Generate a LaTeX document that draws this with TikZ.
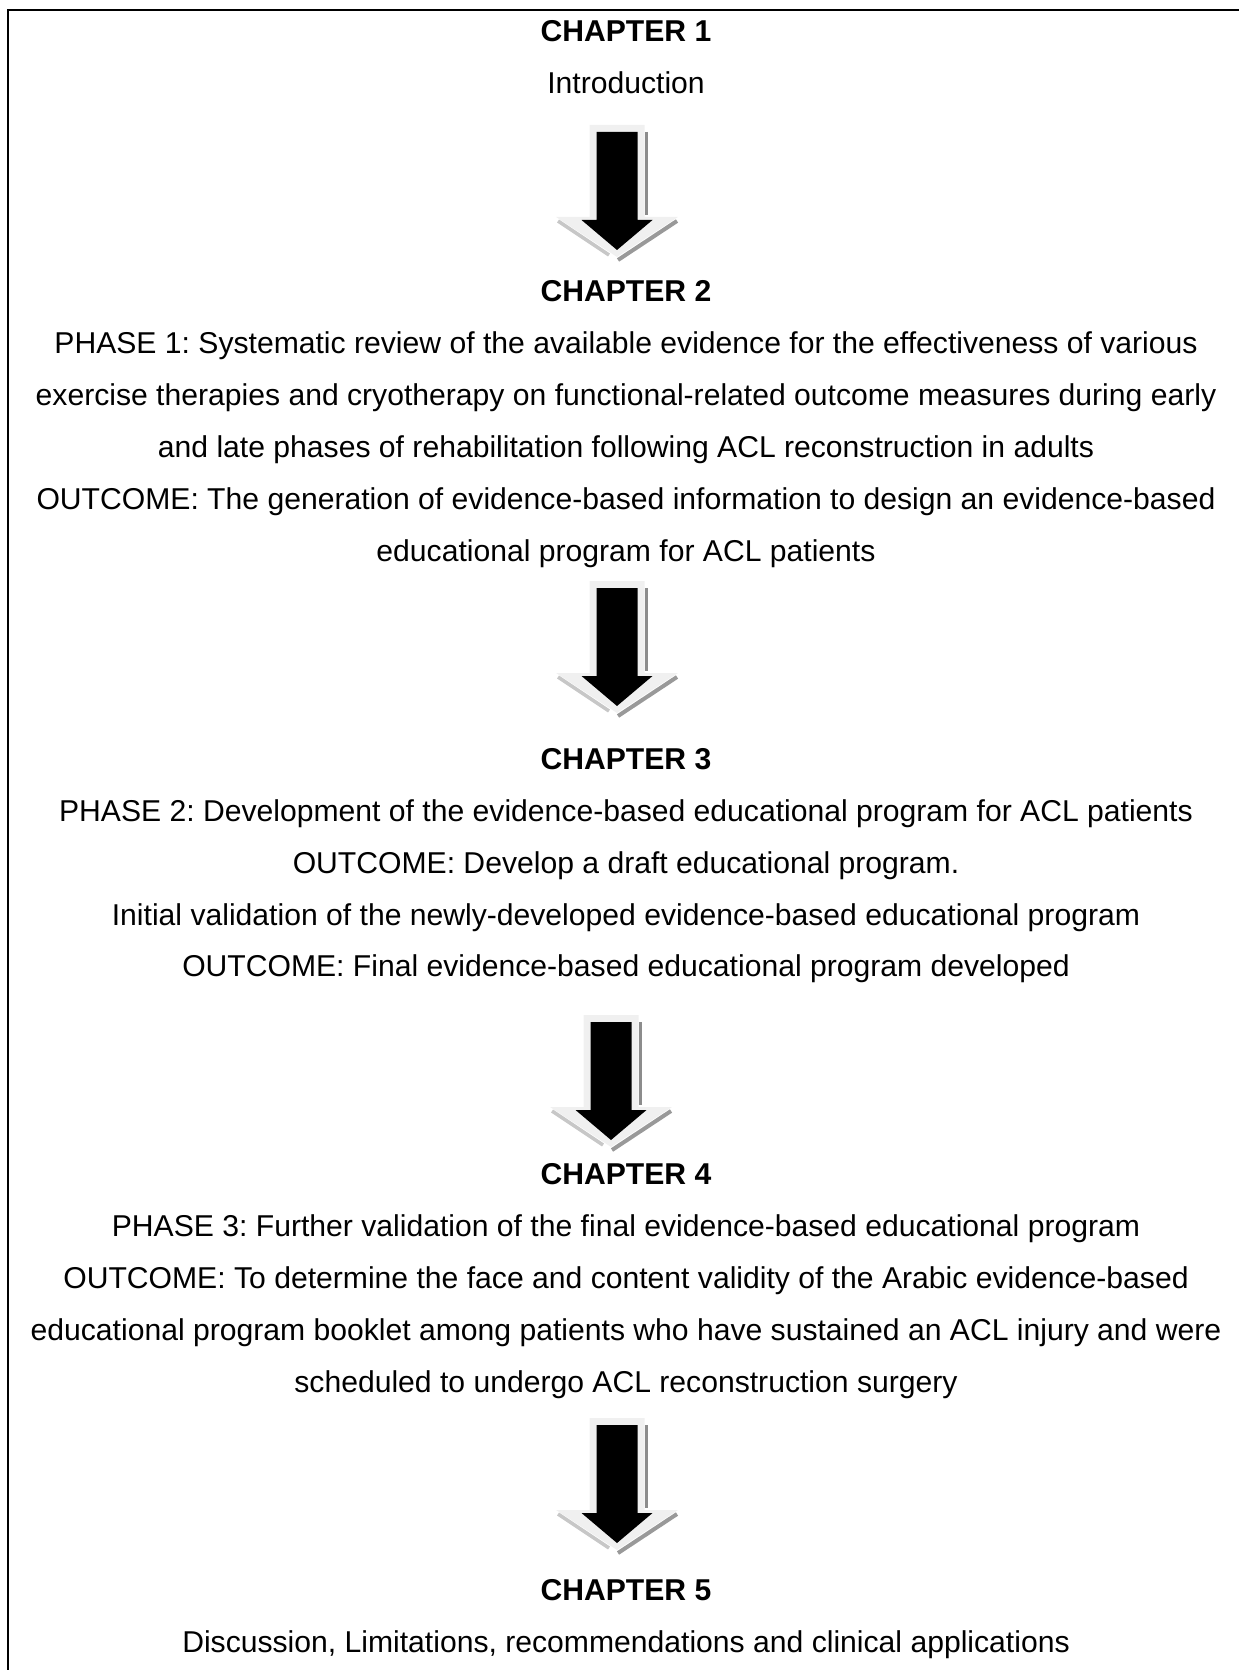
\documentclass[tikz,border=0pt]{standalone}
\usepackage{fontspec}
\setmainfont{Liberation Sans}
\frenchspacing
\usetikzlibrary{positioning}

\tikzset{
	bigarrow/.pic={
		% light back shape
		\fill[black!6] (-27.5,0) -- (27.5,0) -- (27.5,92) -- (61,92) -- (0,132) -- (-61,92) -- (-27.5,92) -- cycle;
		% shadow edges
		\draw[black!45, line width=1.3pt] (29.5,7) -- (29.5,90);
		\draw[black!40, line width=1.6pt] (60,96) -- (1,135);
		\draw[black!22, line width=1.4pt] (-59,96) -- (-8,130);
		% black front arrow
		\fill[black] (-20.5,7) -- (20.5,7) -- (20.5,95) -- (35.5,95) -- (0,125) -- (-35.5,95) -- (-20.5,95) -- cycle;
	}
}

\begin{document}
\begin{tikzpicture}[x=0.4pt, y=-0.4pt,
	t/.style={anchor=base, inner sep=0pt, font=\fontsize{12.05}{20.78}\selectfont},
	h/.style={t, font=\fontsize{12.05}{20.78}\selectfont\bfseries}]
	\useasboundingbox (0,0) rectangle (1239,1670);
	\draw[line width=0.7pt] (8,1670) -- (8,10) -- (1239,10);

	\node[h] (ch1) at (626,42) {CHAPTER 1};
	\node[t] (intro) at (626,93.9) {Introduction};

	\node[h] (ch2) at (626,301.7) {CHAPTER 2};
	\node[t] (p1a) at (626,353.6) {PHASE 1: Systematic review of the available evidence for the effectiveness of various};
	\node[t] (p1b) at (626,405.6) {exercise therapies and cryotherapy on functional-related outcome measures during early};
	\node[t] (p1c) at (626,457.5) {and late phases of rehabilitation following ACL reconstruction in adults};
	\node[t] (o1a) at (626,509.5) {OUTCOME: The generation of evidence-based information to design an evidence-based};
	\node[t] (o1b) at (626,561.4) {educational program for ACL patients};

	\node[h] (ch3) at (626,769.2) {CHAPTER 3};
	\node[t] (p2) at (626,821.1) {PHASE 2: Development of the evidence-based educational program for ACL patients};
	\node[t] (o2a) at (626,873.0) {OUTCOME: Develop a draft educational program.};
	\node[t] (v2) at (626,925.0) {Initial validation of the newly-developed evidence-based educational program};
	\node[t] (o2b) at (626,976.9) {OUTCOME: Final evidence-based educational program developed};

	\node[h] (ch4) at (626,1184.7) {CHAPTER 4};
	\node[t] (p3) at (626,1236.6) {PHASE 3: Further validation of the final evidence-based educational program};
	\node[t] (o3a) at (626,1288.6) {OUTCOME: To determine the face and content validity of the Arabic evidence-based};
	\node[t] (o3b) at (626,1340.5) {educational program booklet among patients who have sustained an ACL injury and were};
	\node[t] (o3c) at (626,1392.4) {scheduled to undergo ACL reconstruction surgery};

	\node[h] (ch5) at (626,1600.2) {CHAPTER 5};
	\node[t] (disc) at (626,1652.1) {Discussion, Limitations, recommendations and clinical applications};

	\coordinate (a1) at (617,125);
	\coordinate (a2) at (617,581);
	\coordinate (a3) at (611,1015);
	\coordinate (a4) at (617,1418);
	\pic at (a1) {bigarrow};
	\pic at (a2) {bigarrow};
	\pic at (a3) {bigarrow};
	\pic at (a4) {bigarrow};
\end{tikzpicture}
\end{document}
